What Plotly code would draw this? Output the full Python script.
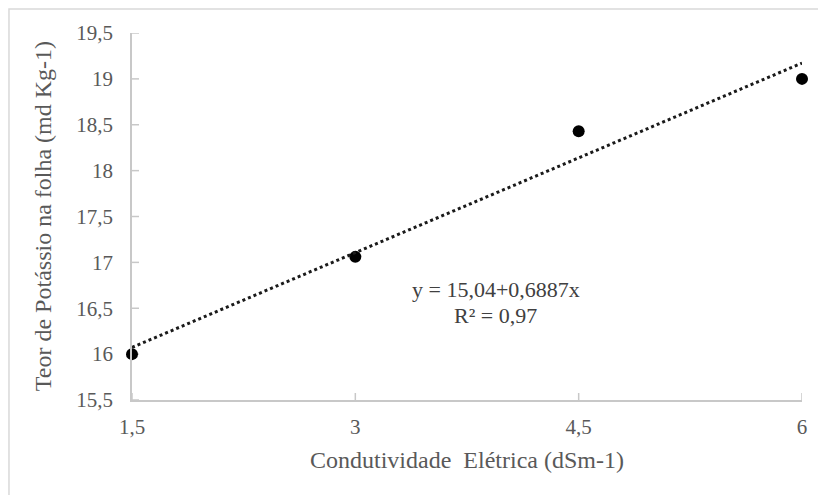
import plotly.graph_objects as go

# Data
x_vals = [1.5, 3.0, 4.5, 6.0]
y_vals = [16.0, 17.06, 18.43, 19.0]
intercept = 15.04
slope = 0.6887
r2_text = "R² = 0,97"
eq_text = "y = 15,04+0,6887x"
x_title = "Condutividade  Elétrica (dSm-1)"
y_title = "Teor de Potássio na folha (md Kg-1)"
x_ticks = [1.5, 3, 4.5, 6]
x_ticktext = ["1,5", "3", "4,5", "6"]
y_ticks = [15.5, 16, 16.5, 17, 17.5, 18, 18.5, 19, 19.5]
y_ticktext = ["15,5", "16", "16,5", "17", "17,5", "18", "18,5", "19", "19,5"]

trend_x = [x_vals[0], x_vals[-1]]
trend_y = [intercept + slope * v for v in trend_x]

FONT = "Liberation Serif"
AXC = "#c8c8c8"
TXT = "#595959"
CLEAR = "rgba(0,0,0,0)"

fig = go.Figure()
fig.add_trace(go.Scatter(x=x_vals, y=y_vals, mode="markers",
                         marker=dict(color="black", size=12),
                         cliponaxis=False, showlegend=False))
fig.add_trace(go.Scatter(x=trend_x, y=trend_y, mode="lines",
                         line=dict(color="#1a1a1a", width=3, dash="dot"),
                         cliponaxis=False, hoverinfo="skip", showlegend=False))

shapes = []
for t in y_ticks:
    shapes.append(dict(type="line", xref="x", yref="y", xsizemode="pixel",
                       xanchor=x_ticks[0], x0=-7, x1=7, y0=t, y1=t,
                       line=dict(color=AXC, width=1.5), layer="below"))
for t in x_ticks:
    shapes.append(dict(type="line", xref="x", yref="y", ysizemode="pixel",
                       yanchor=y_ticks[0], y0=-7, y1=7, x0=t, x1=t,
                       line=dict(color=AXC, width=1.5), layer="below"))
# outer chart border (left and top visible)
shapes.append(dict(type="rect", xref="paper", yref="paper",
                   x0=-0.1836, x1=1.5, y0=-0.5, y1=1.0654,
                   line=dict(color="#d9d9d9", width=1.5), layer="below"))

fig.update_layout(
    width=818, height=495,
    margin=dict(l=132, r=16, t=33, b=95),
    plot_bgcolor="white", paper_bgcolor="white",
    separators=",.",
    font=dict(family=FONT, color=TXT, size=21),
    shapes=shapes,
)
fig.update_xaxes(range=[1.5, 6], tickmode="array", tickvals=x_ticks, ticktext=x_ticktext,
                 showgrid=False, zeroline=False, showline=True,
                 linecolor=AXC, linewidth=1.5,
                 ticks="outside", ticklen=7, tickwidth=1, tickcolor=CLEAR,
                 tickfont_family=FONT, tickfont_size=21, tickfont_color=TXT)
fig.update_yaxes(range=[15.5, 19.5], tickmode="array", tickvals=y_ticks, ticktext=y_ticktext,
                 showgrid=False, zeroline=False, showline=True,
                 linecolor=AXC, linewidth=1.5,
                 ticks="outside", ticklen=13, tickwidth=1, tickcolor=CLEAR,
                 tickfont_family=FONT, tickfont_size=21, tickfont_color=TXT)
# axis titles
fig.add_annotation(x=0.5, y=-0.1635, xref="paper", yref="paper", text=x_title,
                   showarrow=False, xanchor="center", yanchor="middle",
                   font=dict(size=24, color=TXT, family=FONT))
fig.add_annotation(x=-0.1328, y=0.501, xref="paper", yref="paper", text=y_title,
                   showarrow=False, xanchor="center", yanchor="middle", textangle=-90,
                   font=dict(size=24, color=TXT, family=FONT))
# regression annotation
fig.add_annotation(x=0.543, y=0.2615, xref="paper", yref="paper", text=eq_text,
                   showarrow=False, font=dict(size=22, color="#404040", family=FONT))
fig.add_annotation(x=0.543, y=0.1907, xref="paper", yref="paper", text=r2_text,
                   showarrow=False, font=dict(size=22, color="#404040", family=FONT))
fig.write_html("out.html")
